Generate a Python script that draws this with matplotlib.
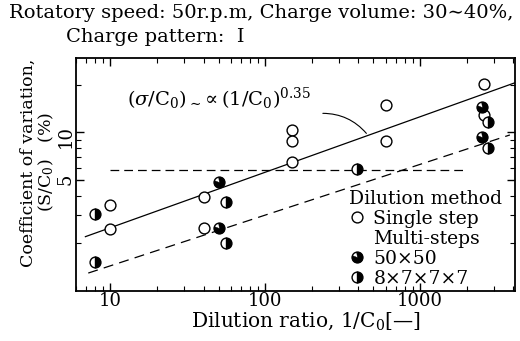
import numpy as np
import matplotlib
matplotlib.use("Agg")
import matplotlib.pyplot as plt
from matplotlib.lines import Line2D

plt.rcParams['font.family'] = ['DejaVu Serif']
plt.rcParams['mathtext.fontset'] = 'dejavuserif'

# data
single_x = [10, 10, 40, 40, 150, 150, 150, 600, 600, 2600, 2600]
single_y = [3.5, 2.45, 3.9, 2.5, 10.3, 8.9, 6.5, 14.8, 8.9, 20.2, 12.9]
ms50_x = [50, 50, 2500, 2500]
ms50_y = [4.9, 2.5, 14.4, 9.3]
ms8777_x = [8, 8, 56, 56, 392, 2744, 2744]
ms8777_y = [3.05, 1.52, 3.65, 2.0, 5.9, 11.6, 7.95]

# fitted lines (power law, coefficient & exponent) and the reference level
solid_x = [6.9, 4100]
solid_k, solid_n = 1.12, 0.35
lower_x = [7.2, 3800]
lower_k, lower_n = 0.69, 0.32
level_x = [10, 1900]
level_y = 5.8

W, H = 520, 341
fig = plt.figure(figsize=(W/100, H/100), dpi=100)
ax = fig.add_axes([76/W, 1-291/H, (515-76)/W, (291-58)/H])
ax.set_xscale('log')
ax.set_yscale('log')
ax.set_xlim(6, 4100)
ax.set_ylim(1, 29.5)

sx = np.array(solid_x)
ax.plot(sx, solid_k*sx**solid_n, color='black', lw=0.9)
lx = np.array(lower_x)
ax.plot(lx, lower_k*lx**lower_n, color='black', lw=0.9, dashes=(8, 5))
ax.plot(level_x, [level_y, level_y], color='black', lw=0.9, dashes=(7, 4))

# 50x50 marker: black disc with a white slice at upper left
t = np.radians(np.linspace(160, 460, 60))
wedge = [(0, 0)] + list(zip(np.cos(t), np.sin(t))) + [(0, 0)]

ms = 7.8
ax.plot(single_x, single_y, 'o', ms=ms, mfc='white', mec='black', mew=1.0, ls='none')
ax.plot(ms50_x, ms50_y, 'o', ms=ms, mfc='white', mec='black', mew=1.0, ls='none')
ax.plot(ms50_x, ms50_y, marker=wedge, ms=ms, mfc='black', mec='black', mew=0.3, ls='none')
ax.plot(ms8777_x, ms8777_y, 'o', ms=ms, fillstyle='right', mfc='black', mfcalt='white',
        mec='black', mew=1.0, ls='none')

# ticks
ax.set_xticks([10, 100, 1000])
ax.set_xticklabels(['10', '100', '1000'])
ax.set_yticks([5, 10])
ax.set_yticklabels(['5', '10'])
ax.set_yticks([2, 3, 4, 6, 7, 8, 9, 20], minor=True)
ax.yaxis.set_minor_formatter(matplotlib.ticker.NullFormatter())
ax.xaxis.set_minor_formatter(matplotlib.ticker.NullFormatter())
ax.tick_params(which='both', direction='in', top=True, right=True, labelsize=13)
ax.tick_params(which='major', length=6, width=1)
ax.tick_params(which='minor', length=3.5, width=0.8)
ax.tick_params(axis='y', labelrotation=90, pad=1)
ax.tick_params(axis='x', pad=1)
for s in ax.spines.values():
    s.set_linewidth(1.3)

# annotation
ax.text(12.9, 16.2, r'$(\sigma/\mathrm{C}_0)_{\sim}\!\propto(1/\mathrm{C}_0)^{0.35}$',
        fontsize=14, ha='left', va='center')
ax.annotate('', xy=(462, 9.57), xytext=(226, 13.2),
            arrowprops=dict(arrowstyle='-', lw=0.8, connectionstyle='arc3,rad=-0.25'))

# legend
h_single = Line2D([], [], marker='o', ms=ms, mfc='white', mec='black', ls='none')
h_blank = Line2D([], [], color='none')
h50a = Line2D([], [], marker='o', ms=ms, mfc='white', mec='black', ls='none')
h50b = Line2D([], [], marker=wedge, ms=ms, mfc='black', mec='black', mew=0.3, ls='none')
h8 = Line2D([], [], marker='o', ms=ms, fillstyle='right', mfc='black', mfcalt='white',
            mec='black', ls='none')
ax.legend([h_single, h_blank, (h50a, h50b), h8],
          ['Single step', 'Multi-steps', '50\u00d750', '8\u00d77\u00d77\u00d77'],
          title='Dilution method', alignment='left', frameon=False,
          fontsize=13.5, title_fontsize=13.5, labelspacing=0.1, handlelength=0.8,
          handletextpad=0.5, borderpad=0, borderaxespad=0,
          loc='upper left', bbox_to_anchor=((349-76)/439, (291-190)/233))

ax.set_xlabel('Dilution ratio, 1/C$_0$[\u2014]', fontsize=14.5)
ax.xaxis.set_label_coords((306-76)/439, -0.085)

fig.text(28/W, 1-163/H, 'Coefficient of variation,', rotation=90, ha='center', va='center', fontsize=12.5)
fig.text(46/W, 1-162/H, '(S/C$_0$)   (%)', rotation=90, ha='center', va='center', fontsize=12.5)

fig.text(9/W, 1-13/H, 'Rotatory speed: 50r.p.m, Charge volume: 30\u223c40%,', ha='left', va='center', fontsize=14.0)
fig.text(66/W, 1-37/H, 'Charge pattern:  I', ha='left', va='center', fontsize=14.0)

fig.savefig('out.png', dpi=100)
